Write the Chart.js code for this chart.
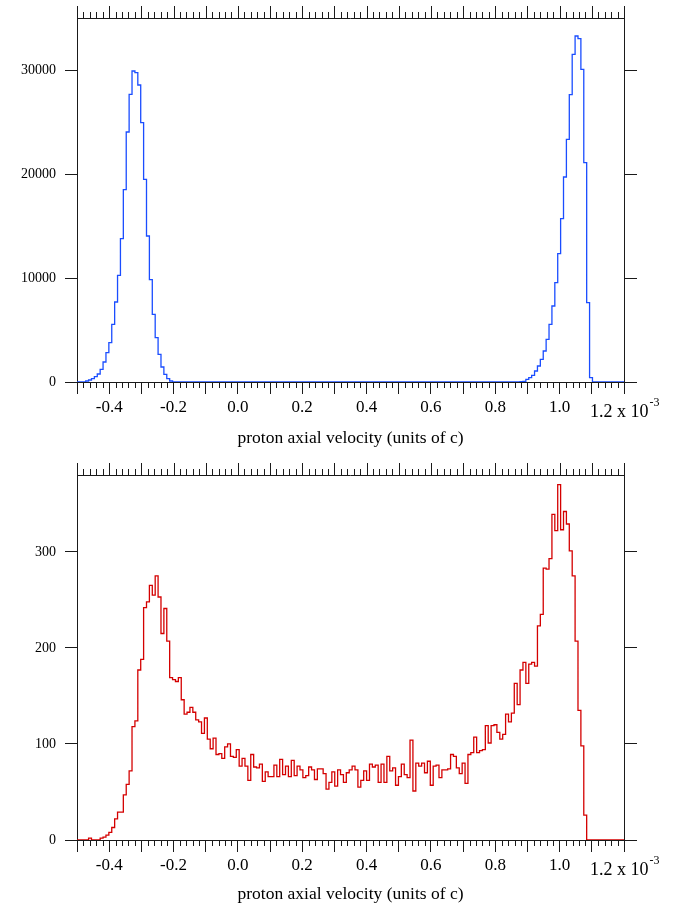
<!DOCTYPE html>
<html>
<head>
<meta charset="utf-8">
<script src="https://cdn.jsdelivr.net/npm/chart.js@4"></script>
<style>
  body { margin: 0; background: #fff; }
  .panel { position: absolute; left: 0; width: 680px; }
</style>
</head>
<body>
<div class="panel" style="top:0;height:457px"><canvas id="top-chart"></canvas></div>
<div class="panel" style="top:457px;height:452px"><canvas id="bottom-chart"></canvas></div>
<script>
// histogram bins: left edge of bin k is binStart + k * binWidth (units of 1e-3 c)
const binStart = -0.5;
const binWidth = 0.009;

// counts per bin, top panel (blue)
const topCounts = [
  0, 0, 0, 0, 96, 192, 320, 513, 769, 1218, 1923, 2820, 3782, 5545, 7692, 10256, 13782, 18493, 24038, 27660,
  29903, 29743, 28557, 24935, 19487, 14038, 9840, 6506, 4263, 2660, 1442, 737, 320, 96, 0, 0, 0, 0, 0, 0,
  0, 0, 0, 0, 0, 0, 0, 0, 0, 0, 0, 0, 0, 0, 0, 0, 0, 0, 0, 0,
  0, 0, 0, 0, 0, 0, 0, 0, 0, 0, 0, 0, 0, 0, 0, 0, 0, 0, 0, 0,
  0, 0, 0, 0, 0, 0, 0, 0, 0, 0, 0, 0, 0, 0, 0, 0, 0, 0, 0, 0,
  0, 0, 0, 0, 0, 0, 0, 0, 0, 0, 0, 0, 0, 0, 0, 0, 0, 0, 0, 0,
  0, 0, 0, 0, 0, 0, 0, 0, 0, 0, 0, 0, 0, 0, 0, 0, 0, 0, 0, 0,
  0, 0, 0, 0, 0, 0, 0, 0, 0, 0, 0, 0, 0, 0, 32, 64, 256, 417, 641, 1058,
  1538, 2179, 2981, 4102, 5545, 7307, 9551, 12339, 15705, 19711, 23332, 27627, 31505, 33268, 33012, 30063, 21089, 7628, 417, 0
];

// counts per bin, bottom panel (red)
const bottomCounts = [
  0, 0, 0, 0, 0, 2, 0, 0, 0, 2, 3, 5, 8, 13, 22, 29, 29, 47, 58, 72,
  118, 124, 177, 188, 242, 248, 265, 255, 275, 253, 215, 241, 207, 169, 167, 165, 169, 146, 131, 133,
  138, 133, 125, 123, 111, 127, 105, 95, 106, 89, 90, 85, 97, 100, 87, 86, 94, 77, 85, 77,
  62, 89, 76, 75, 79, 61, 71, 66, 66, 78, 66, 84, 68, 77, 66, 83, 67, 77, 73, 65,
  67, 76, 73, 63, 74, 74, 69, 53, 60, 71, 56, 73, 68, 60, 70, 73, 77, 73, 55, 62,
  72, 62, 79, 76, 78, 60, 79, 60, 87, 72, 75, 57, 66, 79, 68, 65, 104, 51, 80, 77,
  80, 70, 82, 57, 77, 78, 65, 73, 73, 74, 89, 87, 75, 69, 80, 59, 89, 91, 107, 91,
  93, 94, 119, 101, 119, 120, 112, 105, 110, 131, 123, 132, 163, 141, 177, 185, 163, 183, 185, 181,
  223, 235, 283, 282, 293, 339, 322, 370, 323, 342, 329, 301, 275, 207, 135, 98, 26, 0, 0, 0
];

const xMin = -0.5;
const xMax = 1.2;
const xTicks = [-0.5, -0.4, -0.3, -0.2, -0.1, 0, 0.1, 0.2, 0.3, 0.4, 0.5, 0.6, 0.7, 0.8, 0.9, 1.0, 1.1, 1.2];
const xLabelled = [-0.4, -0.2, 0, 0.2, 0.4, 0.6, 0.8, 1.0];
const xMinorStep = 0.02;

const topYTicks = [0, 10000, 20000, 30000];
const bottomYTicks = [0, 100, 200, 300];

const axisColor = "#1a1a1a";
const serif = "'Liberation Serif', 'Times New Roman', serif";
const yTickFont = { family: serif, size: 14 };
const xTickFont = { family: serif, size: 17 };
const xTitle = "proton axial velocity (units of c)";

function histPoints(counts) {
  const pts = counts.map((c, k) => ({ x: binStart + k * binWidth, y: c }));
  pts.push({ x: xMax, y: 0 });
  return pts;
}

// top frame line, minor ticks on top/bottom, and the "1.2 x 10^-3" label
const frameTicks = {
  id: "frameTicks",
  afterDraw(chart) {
    const { ctx, chartArea: a, scales: { x } } = chart;
    ctx.save();
    ctx.strokeStyle = axisColor;
    ctx.lineWidth = 1;
    ctx.beginPath();
    ctx.moveTo(a.left, a.top + 0.5);
    ctx.lineTo(a.right, a.top + 0.5);
    const nMinor = Math.round((xMax - xMin) / xMinorStep);
    for (let i = 0; i <= nMinor; i++) {
      const v = xMin + i * xMinorStep;
      const px = Math.round(x.getPixelForValue(v)) + 0.5;
      const major = i % 5 === 0;
      const len = major ? 12 : 6;
      ctx.moveTo(px, a.top);
      ctx.lineTo(px, a.top - len);
      if (!major) {
        ctx.moveTo(px, a.bottom);
        ctx.lineTo(px, a.bottom + len);
      }
    }
    ctx.stroke();

    ctx.fillStyle = "#000";
    ctx.textBaseline = "top";
    ctx.textAlign = "left";
    const base = "1.2 x 10";
    ctx.font = `18px ${serif}`;
    const w = ctx.measureText(base).width;
    const lx = x.getPixelForValue(xMax) - 34;
    const ly = a.bottom + 21;
    ctx.fillText(base, lx, ly);
    ctx.font = `12px ${serif}`;
    ctx.fillText("-3", lx + w + 1, ly - 6);
    ctx.restore();
  }
};

function makePanel(canvasId, counts, color, yMax, yTicks, xHeight, titlePad) {
  const ctx = document.getElementById(canvasId).getContext("2d");
  return new Chart(ctx, {
    type: "line",
    data: {
      datasets: [{
        data: histPoints(counts),
        stepped: "after",
        borderColor: color,
        borderWidth: 1.3,
        pointRadius: 0,
        fill: false
      }]
    },
    options: {
      responsive: true,
      maintainAspectRatio: false,
      animation: false,
      events: [],
      layout: { padding: { top: 18, right: 42, bottom: 0, left: 0 } },
      plugins: { legend: { display: false }, tooltip: { enabled: false } },
      scales: {
        x: {
          type: "linear",
          min: xMin,
          max: xMax,
          afterBuildTicks: s => { s.ticks = xTicks.map(v => ({ value: v })); },
          afterFit: s => { s.height = xHeight; },
          ticks: {
            autoSkip: false,
            maxRotation: 0,
            padding: 3,
            color: "#000",
            font: xTickFont,
            callback: v => xLabelled.some(l => Math.abs(l - v) < 1e-6) ? v.toFixed(1) : ""
          },
          grid: { drawOnChartArea: false, tickLength: 12, color: axisColor },
          border: { color: axisColor },
          title: {
            display: true,
            text: xTitle,
            color: "#000",
            font: { family: serif, size: 17.5 },
            padding: { top: 0, bottom: titlePad }
          }
        },
        y: {
          min: 0,
          max: yMax,
          afterBuildTicks: s => { s.ticks = yTicks.map(v => ({ value: v })); },
          afterFit: s => { s.width = 77; },
          ticks: { padding: 9, color: "#000", font: yTickFont, callback: v => String(v) },
          grid: { drawOnChartArea: false, tickLength: 12, color: axisColor },
          border: { color: axisColor }
        },
        y2: {
          position: "right",
          min: 0,
          max: yMax,
          afterBuildTicks: s => { s.ticks = yTicks.map(v => ({ value: v })); },
          afterFit: s => { s.width = 14; },
          ticks: { display: false },
          grid: { drawOnChartArea: false, tickLength: 13, color: axisColor },
          border: { color: axisColor }
        }
      }
    },
    plugins: [frameTicks]
  });
}

makePanel("top-chart", topCounts, "#1a4dff", 35000, topYTicks, 75, 8);
makePanel("bottom-chart", bottomCounts, "#d40000", 380, bottomYTicks, 69, 4);
</script>
</body>
</html>
